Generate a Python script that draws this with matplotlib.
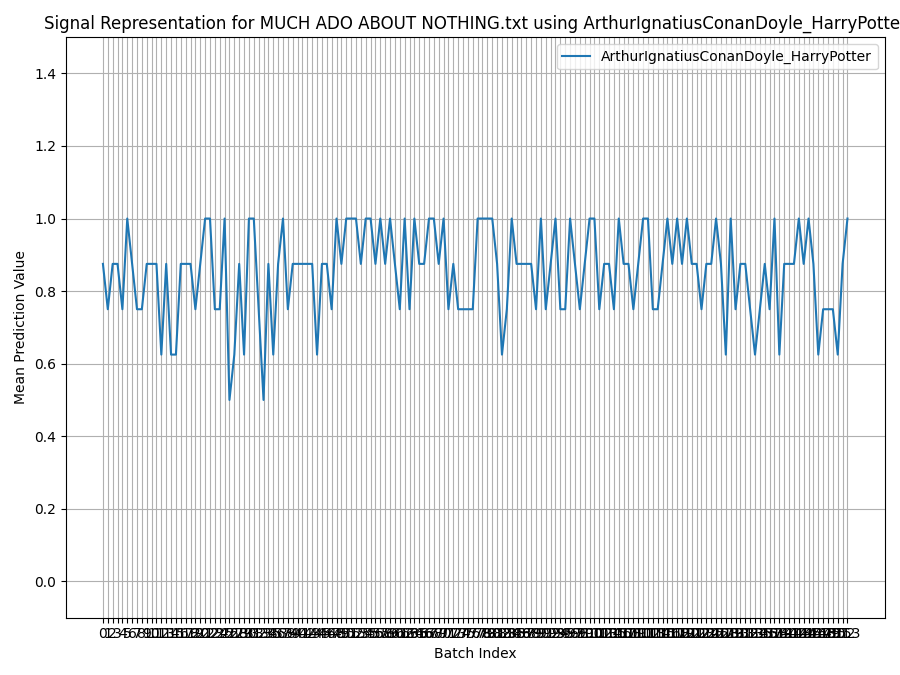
import matplotlib
matplotlib.use("Agg")
import matplotlib.pyplot as plt
import numpy as np

values = [0.875,0.75,0.875,0.875,0.75,1.0,0.875,0.75,0.75,0.875,
          0.875,0.875,0.625,0.875,0.625,0.625,0.875,0.875,0.875,0.75,
          0.875,1.0,1.0,0.75,0.75,1.0,0.5,0.625,0.875,0.625,
          1.0,1.0,0.75,0.5,0.875,0.625,0.875,1.0,0.75,0.875,
          0.875,0.875,0.875,0.875,0.625,0.875,0.875,0.75,1.0,0.875,
          1.0,1.0,1.0,0.875,1.0,1.0,0.875,1.0,0.875,1.0,
          0.875,0.75,1.0,0.75,1.0,0.875,0.875,1.0,1.0,0.875,
          1.0,0.75,0.875,0.75,0.75,0.75,0.75,1.0,1.0,1.0,
          1.0,0.875,0.625,0.75,1.0,0.875,0.875,0.875,0.875,0.75,
          1.0,0.75,0.875,1.0,0.75,0.75,1.0,0.875,0.75,0.875,
          1.0,1.0,0.75,0.875,0.875,0.75,1.0,0.875,0.875,0.75,
          0.875,1.0,1.0,0.75,0.75,0.875,1.0,0.875,1.0,0.875,
          1.0,0.875,0.875,0.75,0.875,0.875,1.0,0.875,0.625,1.0,
          0.75,0.875,0.875,0.75,0.625,0.75,0.875,0.75,1.0,0.625,
          0.875,0.875,0.875,1.0,0.875,1.0,0.875,0.625,0.75,0.75,
          0.75,0.625,0.875,1.0]
idx = np.arange(len(values))
label = "ArthurIgnatiusConanDoyle_HarryPotter"

fig, ax = plt.subplots(figsize=(9, 6.75), dpi=100)
ax.plot(idx, values, color="#1f77b4", label=label)
ax.set_xticks(idx)
ax.set_xticklabels([str(i) for i in idx])
ax.set_ylim(-0.1, 1.5)
ax.grid(True)
ax.set_title("Signal Representation for MUCH ADO ABOUT NOTHING.txt using " + label)
ax.set_xlabel("Batch Index")
ax.set_ylabel("Mean Prediction Value")
ax.legend(loc="upper right")
fig.subplots_adjust(left=0.073, right=0.983, top=0.945, bottom=0.085)
fig.savefig("out.png")
